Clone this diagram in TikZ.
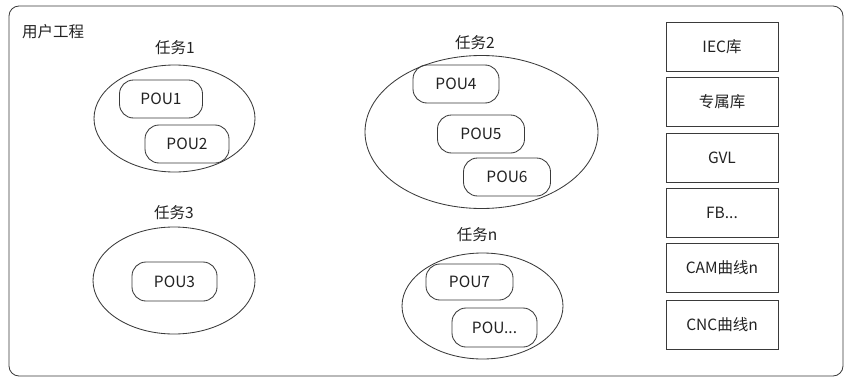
\documentclass[tikz,border=0pt]{standalone}
\usepackage{fontspec}
\setmainfont{Noto Sans CJK SC}
\usetikzlibrary{shapes.geometric}
\definecolor{ln}{HTML}{3A3A3A}
\definecolor{tx}{HTML}{222222}
\begin{document}
\begin{tikzpicture}[x=1pt,y=-1pt,
  every node/.style={font=\fontsize{15.5}{18}\selectfont, text=tx},
  pou/.style={draw=ln, line width=0.85pt, rounded corners=14pt, minimum width=85pt, minimum height=38pt, inner sep=0pt},
  task/.style={draw=ln, line width=0.85pt, ellipse, inner sep=0pt},
  lib/.style={draw=ln, line width=0.85pt, minimum width=112pt, minimum height=49pt, inner sep=0pt},
  lbl/.style={inner sep=0pt}]
\useasboundingbox (0,0) rectangle (845,380);
\draw[ln, line width=0.85pt, rounded corners=10pt] (9,6) rectangle (843,376);
\node[lbl, anchor=west] (title) at (22,32) {用户工程};
% task 1
\node[lbl] (t1) at (175,48) {任务1};
\node[task, minimum width=161pt, minimum height=107pt] (e1) at (174.5,118.5) {};
\node[pou, minimum width=83pt] (p1) at (161,99) {POU1};
\node[pou, minimum width=84pt] (p2) at (187,144) {POU2};
% task 2
\node[lbl] (t2) at (475,43) {任务2};
\node[task, minimum width=233pt, minimum height=153pt] (e2) at (481.5,132) {};
\node[pou, minimum width=86pt] (p4) at (456,84) {POU4};
\node[pou, minimum width=87pt] (p5) at (481,134) {POU5};
\node[pou, minimum width=87pt] (p6) at (507,177) {POU6};
% task 3
\node[lbl] (t3) at (174,213) {任务3};
\node[task, minimum width=162pt, minimum height=107pt] (e3) at (174,280.5) {};
\node[pou, minimum width=85pt, minimum height=39pt] (p3) at (174.5,281.5) {POU3};
% task n
\node[lbl] (tn) at (477,235) {任务n};
\node[task, minimum width=161pt, minimum height=106pt] (en) at (482.5,306) {};
\node[pou, minimum width=87pt, minimum height=36pt] (p7) at (469.5,282) {POU7};
\node[pou, minimum width=85pt, minimum height=39pt] (p8) at (494.5,327.5) {POU...};
% libraries
\node[lib] (l1) at (722,47) {IEC库};
\node[lib] (l2) at (722,102) {专属库};
\node[lib] (l3) at (722,157.5) {GVL};
\node[lib] (l4) at (722,213) {FB...};
\node[lib] (l5) at (722,268) {CAM曲线n};
\node[lib] (l6) at (722,325) {CNC曲线n};
\end{tikzpicture}
\end{document}
